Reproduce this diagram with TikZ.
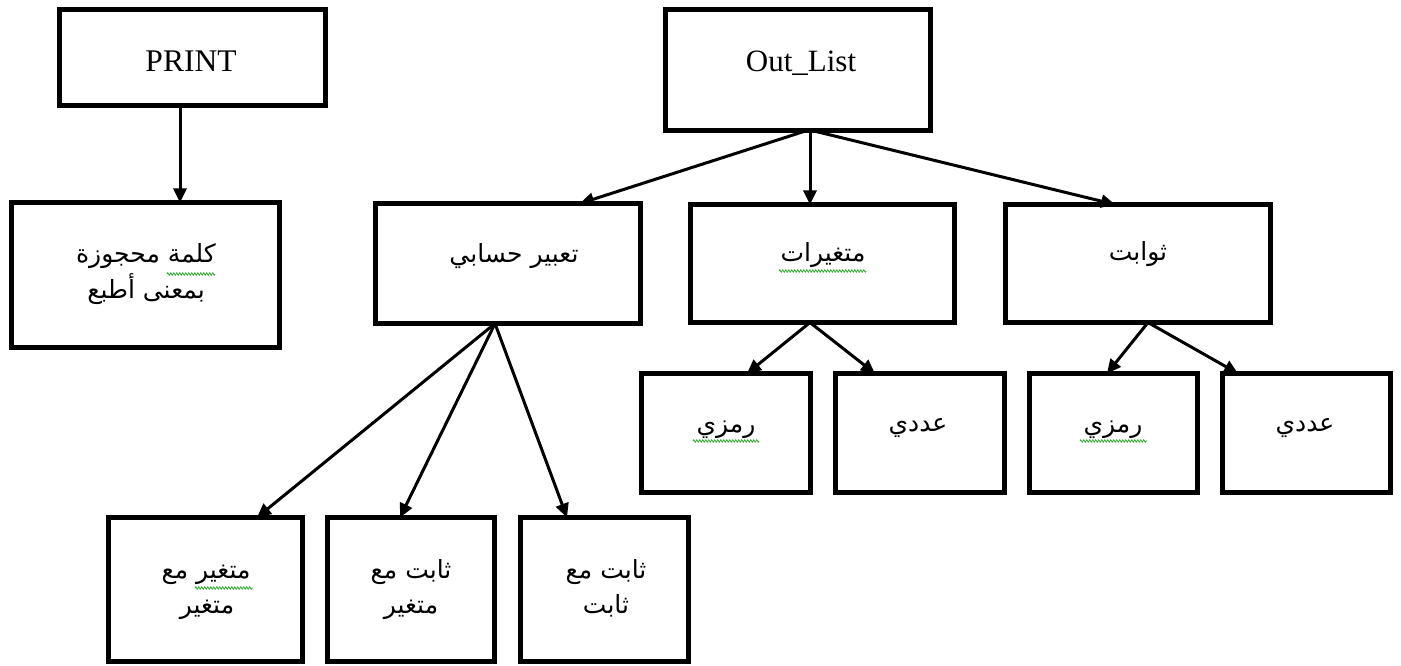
\documentclass[tikz,border=0pt]{standalone}
\usepackage{fontspec}
\setmainfont{Liberation Serif}
\newfontfamily\arabicfont[Script=Arabic]{DejaVu Sans}
\TeXXeTstate=1
\usetikzlibrary{arrows.meta,calc,decorations.pathmorphing}
\definecolor{sqgreen}{RGB}{50,170,50}
\tikzset{
  box/.style={draw, line width=5pt, rectangle, inner sep=0pt, outer sep=0pt},
  lat/.style={font=\fontsize{31.5}{36}\selectfont, inner sep=0pt, anchor=base},
  ar/.style={font=\arabicfont\fontsize{25}{30}\selectfont, inner sep=0pt, anchor=base},
  conn/.style={line width=3pt, -{Triangle[length=14pt,width=13pt]}},
  squig/.style={draw=sqgreen, line width=0.8pt, decorate,
    decoration={zigzag, segment length=3pt, amplitude=1.2pt}}
}
\begin{document}
\begin{tikzpicture}[x=1pt,y=-1pt]
\useasboundingbox[fill=white] (0,0) rectangle (1401,666);

% boxes
\node[box, minimum width=266pt, minimum height=96pt]  (print) at (192.5,57.5) {};
\node[box, minimum width=268pt, minimum height=145pt] (kal)   at (145.5,275) {};
\node[box, minimum width=265pt, minimum height=121pt] (out)   at (798,70) {};
\node[box, minimum width=265pt, minimum height=120pt] (tab)   at (508,263.5) {};
\node[box, minimum width=264pt, minimum height=118pt] (mut)   at (822.5,263.5) {};
\node[box, minimum width=265pt, minimum height=118pt] (thw)   at (1138,263.5) {};
\node[box, minimum width=169pt, minimum height=119pt] (r1)    at (726,433) {};
\node[box, minimum width=169pt, minimum height=119pt] (a1)    at (920,433) {};
\node[box, minimum width=168pt, minimum height=119pt] (r2)    at (1113.5,433) {};
\node[box, minimum width=168pt, minimum height=119pt] (a2)    at (1306.5,433) {};
\node[box, minimum width=194pt, minimum height=144pt] (b1)    at (205.5,589.5) {};
\node[box, minimum width=167pt, minimum height=144pt] (b2)    at (411,589.5) {};
\node[box, minimum width=168pt, minimum height=144pt] (b3)    at (604.5,589.5) {};

% texts
\node[lat] (print-t) at (191,72) {PRINT};
\node[lat, font=\fontsize{31}{36}\selectfont] (out-t) at (801,72) {Out\_List};
\node[ar] (kal-t1) at (146,262) {\beginR كلمة محجوزة\endR};
\node[ar] (kal-t2) at (146,298) {\beginR بمعنى أطبع\endR};
\node[ar] (tab-t) at (514,262) {\beginR تعبير حسابي\endR};
\node[ar] (mut-t) at (823,261) {\beginR متغيرات\endR};
\node[ar] (thw-t) at (1138,260) {\beginR ثوابت\endR};
\node[ar] (r1-t) at (726,432) {\beginR رمزي\endR};
\node[ar] (a1-t) at (918,431) {\beginR عددي\endR};
\node[ar] (r2-t) at (1113,432) {\beginR رمزي\endR};
\node[ar] (a2-t) at (1305,431) {\beginR عددي\endR};
\node[ar] (b1-t1) at (206,578) {\beginR متغير مع\endR};
\node[ar] (b1-t2) at (207,613) {\beginR متغير\endR};
\node[ar] (b2-t1) at (411,578) {\beginR ثابت مع\endR};
\node[ar] (b2-t2) at (411,613) {\beginR متغير\endR};
\node[ar] (b3-t1) at (606,578) {\beginR ثابت مع\endR};
\node[ar] (b3-t2) at (606,613) {\beginR ثابت\endR};

% spelling squiggles
\draw[squig] (167,274) -- (215,274);
\draw[squig] (779,271) -- (866,271);
\draw[squig] (693,441) -- (759,441);
\draw[squig] (1080,441) -- (1147,441);
\draw[squig] (195,588) -- (253,588);

% connectors
\draw[conn] ($(print.south)+(-12.5pt,0)$) -- ($(kal.north)+(34.5pt,0)$);
\draw[conn] ($(out.south)+(9pt,0)$) -- ($(tab.north)+(72pt,0)$);
\draw[conn] ($(out.south)+(12pt,0)$) -- ($(mut.north)+(-12.5pt,0)$);
\draw[conn] ($(out.south)+(14pt,0)$) -- ($(thw.north)+(-23pt,0)$);
\draw[conn] ($(mut.south)+(-12.5pt,0)$) -- ($(r1.north)+(21pt,0)$);
\draw[conn] ($(mut.south)+(-12.5pt,0)$) -- ($(a1.north)+(-45pt,0)$);
\draw[conn] ($(thw.south)+(10pt,0)$) -- ($(r2.north)+(-6.5pt,0)$);
\draw[conn] ($(thw.south)+(10pt,0)$) -- ($(a2.north)+(-68.5pt,0)$);
\draw[conn] ($(tab.south)+(-13pt,0)$) -- ($(b1.north)+(51.5pt,0)$);
\draw[conn] ($(tab.south)+(-13pt,0)$) -- ($(b2.north)+(-11pt,0)$);
\draw[conn] ($(tab.south)+(-13pt,0)$) -- ($(b3.north)+(-37.5pt,0)$);
\end{tikzpicture}
\end{document}
